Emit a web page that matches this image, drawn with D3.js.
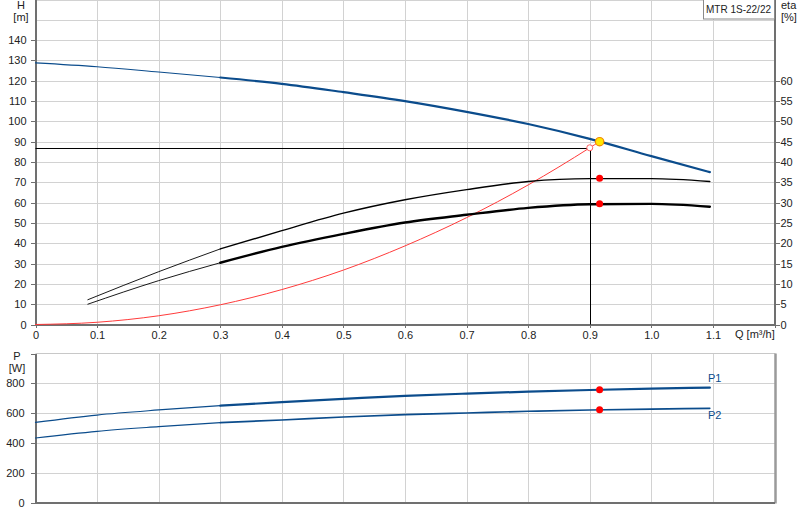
<!DOCTYPE html>
<html lang="en">
<head>
    <meta charset="utf-8"/>
    <title>MTR 1S-22/22</title>
    <style>
        body { margin: 0; background: #fff; }
        svg { font-family: "Liberation Sans", Arial, sans-serif; font-size: 11px; }
        .grid line { stroke: #d2d2d2; stroke-width: 1px; shape-rendering: crispEdges; }
        .axis path, .axis line { stroke: #707070; shape-rendering: crispEdges; }
        .axis path { stroke-width: 2px; }
        .axis text { fill: #222; font-size: 11px; }
        .lbl { fill: #222; font-size: 11px; }
        .curve { fill: none; stroke-linejoin: round; stroke-linecap: round; }
    </style>
</head>
<body>
<div class="viz"></div>
<script src="https://cdnjs.cloudflare.com/ajax/libs/d3/7.8.5/d3.min.js"></script>
<script>

    // ---- data ----
    var qTicks = [0, 0.1, 0.2, 0.3, 0.4, 0.5, 0.6, 0.7, 0.8, 0.9, 1.0, 1.1];
    var hTicks = [0, 10, 20, 30, 40, 50, 60, 70, 80, 90, 100, 110, 120, 130, 140];
    var etaTicks = [0, 5, 10, 15, 20, 25, 30, 35, 40, 45, 50, 55, 60];
    var pTicks = [0, 200, 400, 600, 800];

    var qH = [0, 0.1, 0.2, 0.3, 0.4, 0.5, 0.6, 0.7, 0.8, 0.9, 1.0, 1.095];
    var hVals = [128.8, 126.9, 124.3, 121.6, 118.5, 114.4, 110.0, 104.7, 98.7, 91.4, 82.9, 75.0];

    var qEta = [0.085, 0.2, 0.3, 0.4, 0.5, 0.6, 0.7, 0.8, 0.9, 1.0, 1.095];
    var etaPump = [6.1, 13.0, 18.6, 23.1, 27.4, 30.7, 33.2, 35.2, 35.9, 35.9, 35.2];
    var etaTotal = [5.0, 10.8, 15.2, 19.1, 22.3, 25.1, 27.0, 28.7, 29.6, 29.7, 29.0];

    var qSys = [0, 0.1, 0.2, 0.3, 0.4, 0.5, 0.6, 0.7, 0.8, 0.9, 0.916];
    var hSys = [0, 1.1, 4.3, 9.7, 17.2, 26.8, 38.7, 52.6, 68.7, 87.0, 90.1];

    var qP = [0, 0.1, 0.2, 0.3, 0.4, 0.5, 0.6, 0.7, 0.8, 0.9, 1.0, 1.095];
    var p1Vals = [538, 587, 621, 650, 673, 695, 716, 731, 744, 755, 764, 771];
    var p2Vals = [433, 478, 509, 536, 554, 574, 590, 601, 612, 621, 627, 632];

    var duty = { q: 0.916, h: 90.0, etaPump: 36.0, etaTotal: 29.7, p1: 757, p2: 623 };
    var required = { q: 0.9, h: 87.0 };
    var thickFrom = 0.3;

    var blue = "#0b4c8c";

    var svg = d3.select('.viz').append('svg')
        .attr('width', 800)
        .attr('height', 520);

    var x = d3.scaleLinear().domain([0, 1.2]).range([35.5, 774.5]);
    var yH = d3.scaleLinear().domain([0, 160]).range([324.5, -0.5]);
    var yEta = d3.scaleLinear().domain([0, 80]).range([324.5, -0.5]);
    var yP = d3.scaleLinear().domain([0, 1000]).range([502.5, 353.5]);

    function zip(qs, vs) {
        return qs.map(function(q, i) { return { q: q, v: vs[i] }; });
    }

    // ---- grids ----
    var gTop = svg.append('g').attr('class', 'grid');
    gTop.selectAll('line.v').data(qTicks.concat([1.2])).enter().append('line')
        .attr('class', 'v')
        .attr('x1', function(d) { return Math.round(x(d)) + 0.5; })
        .attr('x2', function(d) { return Math.round(x(d)) + 0.5; })
        .attr('y1', 0).attr('y2', yH(0));
    gTop.selectAll('line.h').data(d3.range(10, 170, 10)).enter().append('line')
        .attr('class', 'h')
        .attr('x1', x(0)).attr('x2', x(1.2))
        .attr('y1', function(d) { return Math.round(yH(d)) + 0.5; })
        .attr('y2', function(d) { return Math.round(yH(d)) + 0.5; });

    var gBot = svg.append('g').attr('class', 'grid');
    gBot.selectAll('line.v').data(qTicks).enter().append('line')
        .attr('class', 'v')
        .attr('x1', function(d) { return Math.round(x(d)) + 0.5; })
        .attr('x2', function(d) { return Math.round(x(d)) + 0.5; })
        .attr('y1', yP(1000)).attr('y2', yP(0));
    gBot.selectAll('line.h').data([200, 400, 600, 800]).enter().append('line')
        .attr('class', 'h')
        .attr('x1', x(0)).attr('x2', x(1.2))
        .attr('y1', function(d) { return Math.round(yP(d)) + 0.5; })
        .attr('y2', function(d) { return Math.round(yP(d)) + 0.5; });

    // bottom frame (top + right shadow)
    svg.append('line').attr('x1', x(0)).attr('x2', x(1.2) + 1)
        .attr('y1', yP(1000)).attr('y2', yP(1000))
        .attr('stroke', '#c8c8c8').attr('stroke-width', 1);
    svg.append('line').attr('x1', x(1.2) + 1).attr('x2', x(1.2) + 1)
        .attr('y1', yP(1000)).attr('y2', yP(0) + 1)
        .attr('stroke', '#9a9a9a').attr('stroke-width', 2.5);

    // ---- axes ----
    svg.append('g').attr('class', 'axis')
        .attr('transform', 'translate(' + x(0) + ',0)')
        .call(d3.axisLeft(yH).tickValues(hTicks).tickSize(5).tickPadding(4).tickSizeOuter(0));

    svg.append('g').attr('class', 'axis')
        .attr('transform', 'translate(0,' + yH(0) + ')')
        .call(d3.axisBottom(x).tickValues(qTicks.concat([1.2])).tickSize(3).tickPadding(4).tickSizeOuter(0)
            .tickFormat(function(d) { return d === 1.2 ? '' : (d === 0 ? '0' : d3.format('.1f')(d)); }));

    svg.append('g').attr('class', 'axis')
        .attr('transform', 'translate(' + x(1.2) + ',0)')
        .call(d3.axisRight(yEta).tickValues(etaTicks).tickSize(5).tickPadding(1).tickSizeOuter(0));

    svg.append('g').attr('class', 'axis')
        .attr('transform', 'translate(' + x(0) + ',0)')
        .call(d3.axisLeft(yP).tickValues(pTicks.concat([1000])).tickSize(5).tickPadding(6).tickSizeOuter(0)
            .tickFormat(function(d) { return d === 1000 ? '' : d; }));

    svg.append('g').attr('class', 'axis')
        .attr('transform', 'translate(0,' + yP(0) + ')')
        .call(d3.axisBottom(x).tickValues([]).tickSizeOuter(0));

    // axis titles
    svg.append('text').attr('class', 'lbl').attr('x', 21).attr('y', 9).attr('text-anchor', 'middle').text('H');
    svg.append('text').attr('class', 'lbl').attr('x', 21).attr('y', 21).attr('text-anchor', 'middle').text('[m]');
    svg.append('text').attr('class', 'lbl').attr('x', 781).attr('y', 9).text('eta');
    svg.append('text').attr('class', 'lbl').attr('x', 781).attr('y', 21).text('[%]');
    svg.append('text').attr('class', 'lbl').attr('x', 735).attr('y', 338).text('Q [m³/h]');
    svg.append('text').attr('class', 'lbl').attr('x', 17).attr('y', 360).attr('text-anchor', 'middle').text('P');
    svg.append('text').attr('class', 'lbl').attr('x', 17).attr('y', 372).attr('text-anchor', 'middle').text('[W]');

    // legend box
    svg.append('rect').attr('x', 703.5).attr('y', -1).attr('width', 71).attr('height', 20)
        .attr('fill', '#fff').attr('stroke', '#8a8a8a');
    svg.append('text').attr('class', 'lbl').attr('x', 706).attr('y', 13)
        .attr('textLength', 65).attr('lengthAdjust', 'spacingAndGlyphs')
        .text('MTR 1S-22/22');

    // ---- curves ----
    function drawCurve(data, yScale, color, thin, thick) {
        var line = d3.line()
            .x(function(d) { return x(d.q); })
            .y(function(d) { return yScale(d.v); })
            .curve(d3.curveMonotoneX);
        svg.append('path').datum(data.filter(function(d) { return d.q <= thickFrom; }))
            .attr('class', 'curve').attr('d', line)
            .attr('stroke', color).attr('stroke-width', thin);
        svg.append('path').datum(data.filter(function(d) { return d.q >= thickFrom; }))
            .attr('class', 'curve').attr('d', line)
            .attr('stroke', color).attr('stroke-width', thick);
    }

    // required duty lines
    svg.append('line').attr('x1', x(0)).attr('x2', x(required.q))
        .attr('y1', Math.round(yH(required.h)) + 0.5).attr('y2', Math.round(yH(required.h)) + 0.5)
        .attr('stroke', '#000').attr('stroke-width', 1);
    svg.append('line').attr('x1', Math.round(x(required.q)) + 0.5).attr('x2', Math.round(x(required.q)) + 0.5)
        .attr('y1', yH(required.h)).attr('y2', yH(0))
        .attr('stroke', '#000').attr('stroke-width', 1);

    // system curve
    svg.append('path').datum(zip(qSys, hSys))
        .attr('class', 'curve')
        .attr('d', d3.line().x(function(d) { return x(d.q); }).y(function(d) { return yH(d.v); }).curve(d3.curveMonotoneX))
        .attr('stroke', '#ff3b3b').attr('stroke-width', 1);

    drawCurve(zip(qEta, etaPump), yEta, '#000', 0.9, 1.4);
    drawCurve(zip(qEta, etaTotal), yEta, '#000', 0.9, 2.4);
    drawCurve(zip(qH, hVals), yH, blue, 1.2, 2.2);
    drawCurve(zip(qP, p1Vals), yP, blue, 1.2, 2.2);
    drawCurve(zip(qP, p2Vals), yP, blue, 1.2, 1.6);

    svg.append('text').attr('x', 708).attr('y', 382).attr('fill', blue).attr('font-size', 11).text('P1');
    svg.append('text').attr('x', 708).attr('y', 419).attr('fill', blue).attr('font-size', 11).text('P2');

    // ---- duty points ----
    svg.append('circle').attr('cx', x(required.q)).attr('cy', yH(required.h)).attr('r', 3)
        .attr('fill', '#fff').attr('stroke', '#ff6060').attr('stroke-width', 1);

    var dots = [
        { y: yEta(duty.etaPump) },
        { y: yEta(duty.etaTotal) },
        { y: yP(duty.p1) },
        { y: yP(duty.p2) }
    ];
    svg.selectAll('circle.dot').data(dots).enter().append('circle')
        .attr('class', 'dot')
        .attr('cx', x(duty.q)).attr('cy', function(d) { return d.y; })
        .attr('r', 3.5).attr('fill', '#ff0000');

    svg.append('circle').attr('cx', x(duty.q)).attr('cy', yH(duty.h)).attr('r', 4.2)
        .attr('fill', '#ffe600').attr('stroke', '#f08a00').attr('stroke-width', 1.2);

</script>
</body>
</html>
